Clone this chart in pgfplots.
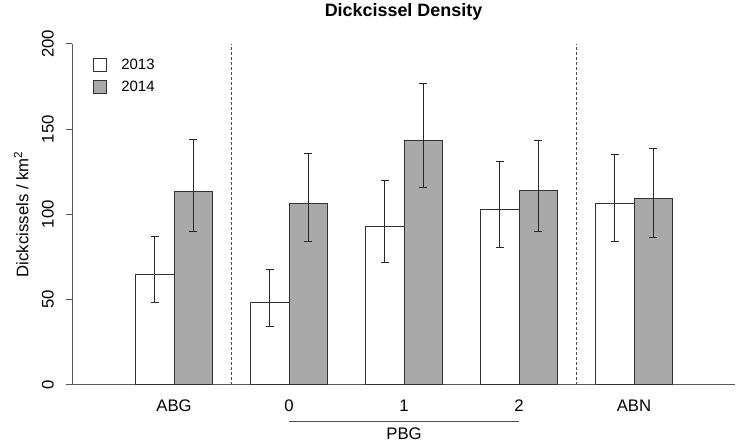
\documentclass[border=0pt]{standalone}
\usepackage{pgfplots}
\pgfplotsset{compat=1.18}
\usepackage{fontspec}
\setmainfont{Liberation Sans}
\definecolor{barfill}{HTML}{A9A9A9}
\begin{document}
\begin{tikzpicture}
\path (0bp,0bp) rectangle (736bp,442bp);
\begin{axis}[
  at={(72bp,60bp)}, anchor=south west,
  scale only axis, width=663bp, height=341bp,
  xmin=-0.887, xmax=4.878, ymin=0, ymax=200,
  clip=false,
  axis x line=bottom, axis y line=left,
  axis line style={-, black!65, line width=0.8bp},
  /pgf/number format/assume math mode=true,
  xtick={0,1,2,3,4}, xticklabels={ABG,0,1,2,ABN},
  x tick style={draw=none}, xtick align=outside,
  xticklabel style={anchor=north, inner sep=0pt, yshift=-9bp, font=\fontsize{16.8}{18}\selectfont},
  ytick={0,50,100,150,200},
  ytick align=outside, major tick length=6bp,
  y tick style={black!65, line width=0.8bp},
  yticklabel style={xshift=-12bp, rotate=90, anchor=south, inner sep=0pt, font=\fontsize{16.8}{18}\selectfont},
  ylabel={Dickcissels / km\textsuperscript{2}},
  every axis y label/.style={at={(axis description cs:-0.0659,0.5)}, rotate=90, anchor=base, font=\fontsize{16.8}{18}\selectfont},
  title={Dickcissel Density},
  title style={at={(axis description cs:0.5,1)}, anchor=base, yshift=21.5bp, font=\bfseries\fontsize{18}{20}\selectfont},
  legend style={draw=none, fill=none, inner sep=0pt, outer sep=0pt,
    at={(rel axis cs:0.0321,0.958)}, anchor=north west,
    row sep=8.6bp, column sep=0bp, font=\fontsize{15}{17}\selectfont,
    nodes={inner sep=0pt}},
  legend cell align=left,
  mylegend/.style={legend image code/.code={\draw[##1, draw=black!80, line width=0.7bp] (0bp,-6.3bp) rectangle (12.7bp,6.3bp); \path[draw=none, fill=none] (0bp,0bp) -- (27.7bp,0bp);}},
  error bars/error bar style={black!85, line width=0.9bp},
  error bars/error mark options={black!85, line width=0.9bp, mark size=4bp, rotate=90},
]
% 2013
\addplot[ybar, bar shift=0pt, bar width=0.3333, fill=white, draw=black!80, line width=0.8bp, mylegend,
  error bars/.cd, y dir=both, y explicit]
coordinates {
  (-0.16667,64.5) += (0,22.7) -= (0,16.4)
  (0.83333,48.1) += (0,19.5) -= (0,14.1)
  (1.83333,92.7) += (0,26.9) -= (0,21.0)
  (2.83333,102.6) += (0,28.2) -= (0,22.1)
  (3.83333,106.6) += (0,28.7) -= (0,22.5)
};
\addlegendentry{2013}
% 2014
\addplot[ybar, bar shift=0pt, bar width=0.3333, fill=barfill, draw=black!80, line width=0.8bp, mylegend,
  error bars/.cd, y dir=both, y explicit]
coordinates {
  (0.16667,113.2) += (0,30.5) -= (0,23.5)
  (1.16667,106.6) += (0,29.1) -= (0,22.7)
  (2.16667,143.1) += (0,33.9) -= (0,27.6)
  (3.16667,113.8) += (0,29.7) -= (0,24.1)
  (4.16667,109.1) += (0,29.7) -= (0,22.9)
};
\addlegendentry{2014}
\addplot[black!70, line width=0.8bp, dash pattern=on 3bp off 2bp, forget plot] coordinates {(0.5,0) (0.5,200)};
\addplot[black!70, line width=0.8bp, dash pattern=on 3bp off 2bp, forget plot] coordinates {(3.5,0) (3.5,200)};
\addplot[black!70, line width=0.8bp, forget plot] coordinates {(1,-21.5) (3,-21.5)};
\node[anchor=north, inner sep=0pt, yshift=-6.3bp, font=\fontsize{16.8}{18}\selectfont] at (axis cs:2,-21.5) {PBG};
\end{axis}
\end{tikzpicture}
\end{document}
